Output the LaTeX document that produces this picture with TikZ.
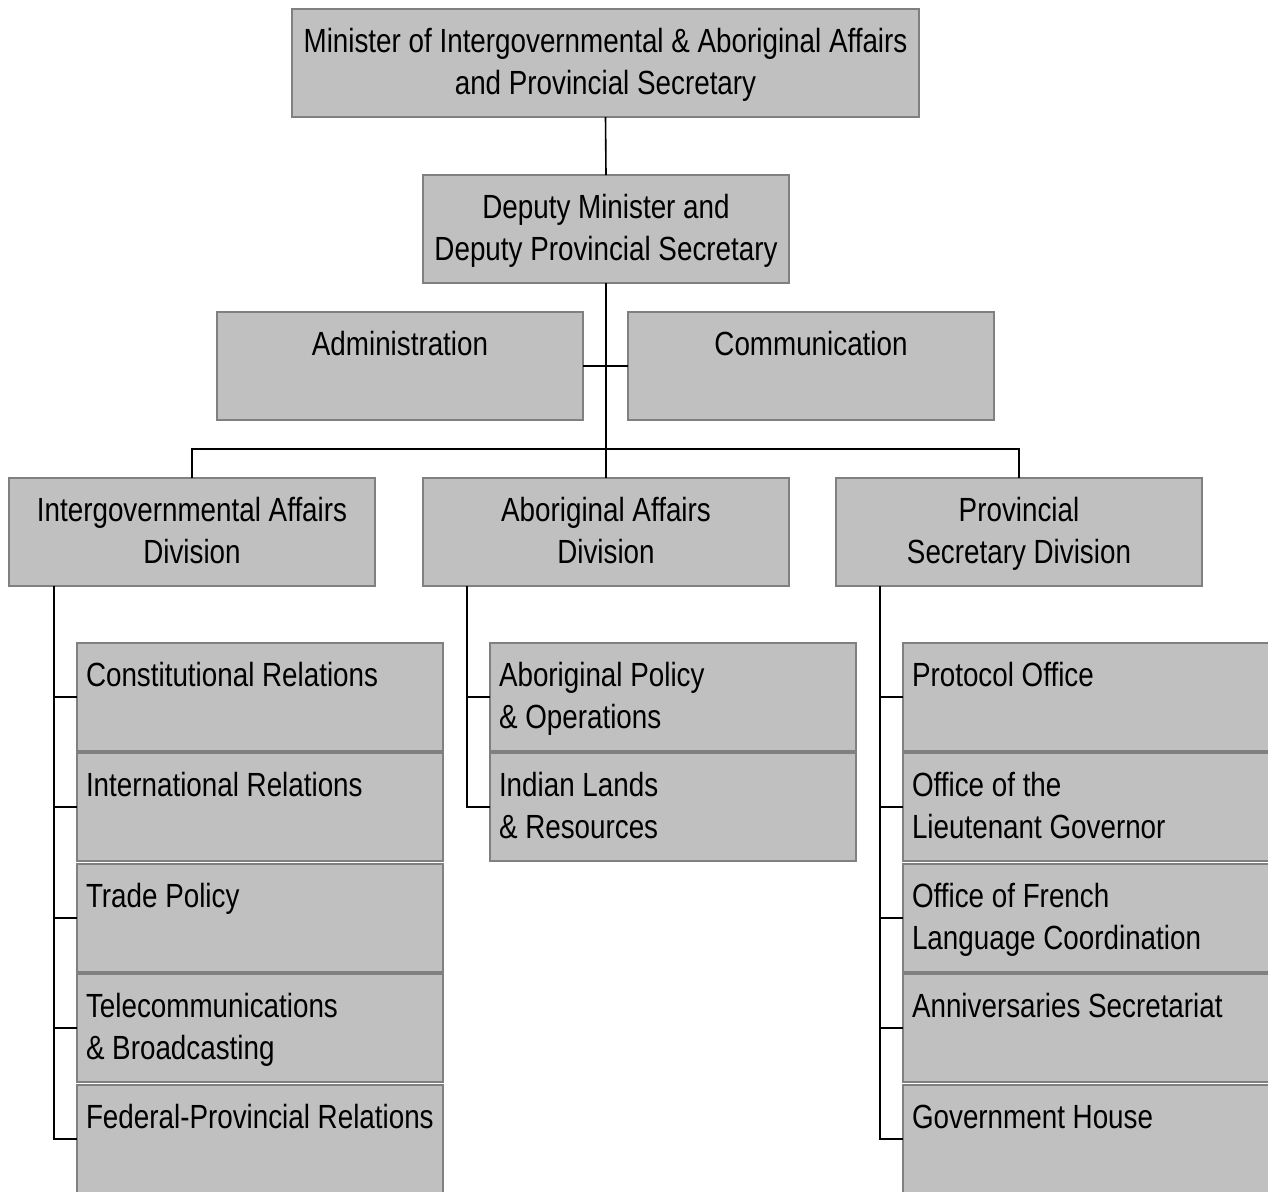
\documentclass[tikz,border=0pt]{standalone}
\usepackage{fontspec}
\setmainfont{Liberation Sans}[FakeStretch=0.83]
\definecolor{boxfill}{HTML}{C0C0C0}
\definecolor{boxline}{HTML}{808080}
\newcommand\cbx[2]{\parbox[c][108pt][t]{#1}{\centering\rule{0pt}{43pt}#2}}
\newcommand\lbx[1]{\parbox[c][108pt][t]{366pt}{\raggedright\leftskip=9pt\relax\rule{0pt}{43pt}#1}}
\tikzset{
  box/.style={draw=boxline, fill=boxfill, line width=1.5pt, inner sep=0pt, outer sep=0pt, anchor=north west},
  conn/.style={draw=black, line width=1.6pt},
}
\begin{document}
\begin{tikzpicture}[x=1pt, y=-1pt, font=\fontsize{33.5pt}{42pt}\selectfont]
\useasboundingbox (0,0) rectangle (1268,1191);
\clip (0,0) rectangle (1268,1191);
% top levels
\node[box] (top) at (292,9) {\cbx{627pt}{Minister of Intergovernmental \& Aboriginal Affairs\\and Provincial Secretary}};
\node[box] (dep) at (423,175) {\cbx{366pt}{Deputy Minister and\\Deputy Provincial Secretary}};
\node[box] (adm) at (217,312) {\cbx{366pt}{Administration}};
\node[box] (com) at (628,312) {\cbx{366pt}{Communication}};
% divisions
\node[box] (d1) at (9,478) {\cbx{366pt}{Intergovernmental Affairs\\Division}};
\node[box] (d2) at (423,478) {\cbx{366pt}{Aboriginal Affairs\\Division}};
\node[box] (d3) at (836,478) {\cbx{366pt}{Provincial\\Secretary Division}};
% intergovernmental units
\node[box] (a1) at (77,643) {\lbx{Constitutional Relations}};
\node[box] (a2) at (77,753) {\lbx{International Relations}};
\node[box] (a3) at (77,864) {\lbx{Trade Policy}};
\node[box] (a4) at (77,974) {\lbx{Telecommunications\\\& Broadcasting}};
\node[box] (a5) at (77,1085) {\lbx{Federal-Provincial Relations}};
% aboriginal units
\node[box] (b1) at (490,643) {\lbx{Aboriginal Policy\\\& Operations}};
\node[box] (b2) at (490,753) {\lbx{Indian Lands\\\& Resources}};
% provincial units
\node[box] (c1) at (903,643) {\lbx{Protocol Office}};
\node[box] (c2) at (903,753) {\lbx{Office of the\\Lieutenant Governor}};
\node[box] (c3) at (903,864) {\lbx{Office of French\\Language Coordination}};
\node[box] (c4) at (903,974) {\lbx{Anniversaries Secretariat}};
\node[box] (c5) at (903,1085) {\lbx{Government House}};
% connectors
\coordinate (bus) at (606,449);
\draw[conn] (top.south) -- (dep.north);
\draw[conn] (dep.south) -- (d2.north);
\draw[conn] (adm.east) -- (com.west);
\draw[conn] (d1.north) |- (bus) -| (d3.north);
\coordinate (t1) at ([xshift=45pt]d1.south west);
\coordinate (t2) at ([xshift=44pt]d2.south west);
\coordinate (t3) at ([xshift=44pt]d3.south west);
\draw[conn] (t1) |- (a5.west);
\foreach \n in {a1,a2,a3,a4} \draw[conn] (\n.west) -- (\n.west -| t1);
\draw[conn] (t2) |- (b2.west);
\draw[conn] (b1.west) -- (b1.west -| t2);
\draw[conn] (t3) |- (c5.west);
\foreach \n in {c1,c2,c3,c4} \draw[conn] (\n.west) -- (\n.west -| t3);
\end{tikzpicture}
\end{document}
